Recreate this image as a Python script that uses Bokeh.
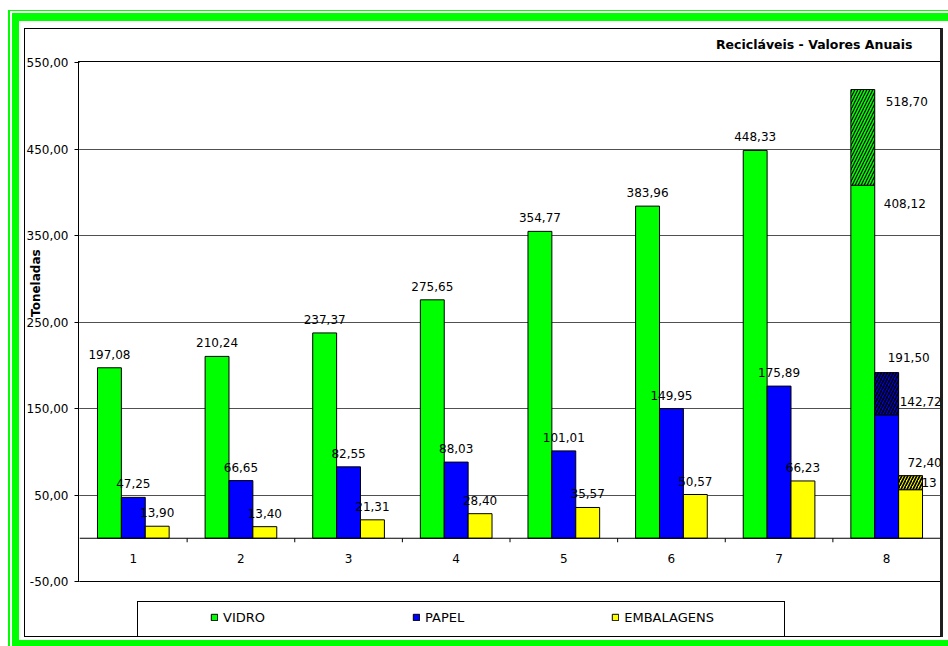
from bokeh.plotting import figure
from bokeh.models import (Range1d, FixedTicker, Span, Legend, LegendItem,
                          ColumnDataSource, CustomJSTickFormatter)
from bokeh.transform import dodge
from bokeh.core.properties import value
from bokeh.embed import file_html
from bokeh.resources import INLINE

# ---------------------------------------------------------------- data
meses = [1, 2, 3, 4, 5, 6, 7, 8]
vidro = [197.08, 210.24, 237.37, 275.65, 354.77, 383.96, 448.33, 408.12]
papel = [47.25, 66.65, 82.55, 88.03, 101.01, 149.95, 175.89, 142.72]
embalagens = [13.90, 13.40, 21.31, 28.40, 35.57, 50.57, 66.23, 56.13]

# projected totals for the last year (hatched part of the bars)
prev_mes = [8]
prev_vidro = [518.70]
prev_papel = [191.50]
prev_embalagens = [72.40]

y_ticks = [-50, 50, 150, 250, 350, 450, 550]
titulo = "Recicláveis - Valores Anuais"
eixo_y = "Toneladas"


def br(v):
    return f"{v:.2f}".replace(".", ",")


# ---------------------------------------------------------------- layout (canvas px)
W, H = 948, 646
FL, FR, FT = 79, 940, 62      # value area: left, right, top
AB = 581                      # bottom of the value area (y = -50)
FB = 637                      # the frame runs on down to the legend's base
FONT = "DejaVu Sans"

y_min, y_max = y_ticks[0], y_ticks[-1]
upp = (y_max - y_min) / (AB - FT)            # data units per pixel
y_lo = y_min - (FB - AB) * upp

# chart-area border: double green rule, black frame, value-area edges, legend box
rects = [
    (8, 10, 940, 1, "#00FF00"), (8, 10, 2, 636, "#00FF00"),
    (12, 13, 936, 8, "#00FF00"), (12, 13, 7, 633, "#00FF00"), (12, 640, 936, 6, "#00FF00"),
    (24, 28, 917, 1, "#000000"), (24, 28, 1, 609, "#000000"),
    (24, 636, 917, 1, "#000000"), (940, 28, 3, 609, "#202020"),
    (78, 61, 863, 1, "#000000"), (78, 61, 1, 521, "#000000"),
    (137, 601, 648, 1, "#000000"), (137, 601, 1, 36, "#000000"), (784, 601, 1, 36, "#000000"),
]
bg = ", ".join(f"linear-gradient({c}, {c}) {x}px {y}px / {w}px {h}px no-repeat"
               for x, y, w, h, c in rects) + ", #ffffff"

p = figure(width=W, height=H, x_range=Range1d(0.5, 8.5), y_range=Range1d(y_lo, y_max),
           output_backend="svg", toolbar_location=None, x_axis_location=None,
           min_border_left=FL, min_border_right=W - FR,
           min_border_top=FT, min_border_bottom=H - FB)
p.styles = {"background": bg}
p.background_fill_alpha = 0
p.border_fill_alpha = 0
p.outline_line_color = None

# title, top right
p.title.text = titulo
p.title.align = "right"
p.title.offset = FR - 912
p.title.standoff = 21
p.title.text_font = FONT
p.title.text_font_style = "bold"
p.title.text_font_size = "12.5px"
p.title.text_color = "black"

# y axis
p.yaxis.ticker = FixedTicker(ticks=y_ticks)
p.yaxis.formatter = CustomJSTickFormatter(code="return tick.toFixed(2).replace('.', ',');")
p.yaxis.major_tick_out = 5
p.yaxis.major_tick_in = 0
p.yaxis.minor_tick_line_color = None
p.yaxis.axis_line_color = None
p.yaxis.major_tick_line_color = "black"
p.yaxis.major_label_standoff = 6
p.yaxis.major_label_text_font = FONT
p.yaxis.major_label_text_font_size = "12px"
p.yaxis.major_label_text_color = "black"
# leading no-break spaces lift the rotated title above the frame centre
p.yaxis.axis_label = "\u00a0" * 32 + eixo_y
p.yaxis.axis_label_standoff = -19
p.yaxis.axis_label_text_font = FONT
p.yaxis.axis_label_text_font_style = "bold"
p.yaxis.axis_label_text_font_size = "12px"
p.yaxis.axis_label_text_color = "black"

p.xgrid.visible = False
p.ygrid.ticker = FixedTicker(ticks=y_ticks)
p.ygrid.grid_line_color = "#505050"
p.ygrid.grid_line_width = 1

# base of the value area and category axis on the zero line
p.add_layout(Span(location=y_min, dimension="width", line_color="black", line_width=1))
p.add_layout(Span(location=0, dimension="width", line_color="black", line_width=1))
n = len(meses)
bounds = [i + 0.5 for i in range(1, n)]
p.segment(x0=bounds, x1=bounds, y0=[0] * len(bounds), y1=[-4 * upp] * len(bounds),
          line_color="black", line_width=1)
p.text(x=meses, y=[0] * n, text=[str(m) for m in meses], y_offset=20,
       text_align="center", text_baseline="middle",
       text_font=value(FONT), text_font_size=value("12px"), text_color="black")

# ---------------------------------------------------------------- bars
BW = 0.222
src = ColumnDataSource(dict(x=meses, vidro=vidro, papel=papel, emb=embalagens))
series = [("vidro", "VIDRO", "#00FF00", -BW),
          ("papel", "PAPEL", "#0000FF", 0.0),
          ("emb", "EMBALAGENS", "#FFFF00", BW)]
bar_r = []
for key, name, color, off in series:
    r = p.vbar(x=dodge("x", off), top=key, bottom=0, width=BW, source=src,
               fill_color=color, line_color="black", line_width=1)
    bar_r.append(r)

# label of the last packaging bar sits behind its hatched extension
last_emb = ColumnDataSource(dict(x=[meses[-1] + BW], y=[embalagens[-1]],
                                 t=[br(embalagens[-1])]))
p.text(x="x", y="y", text="t", source=last_emb, x_offset=9, y_offset=-7,
       text_align="center", text_baseline="middle",
       text_font=value(FONT), text_font_size=value("12px"), text_color="black")

# hatched projection on top of the last year
prev = ColumnDataSource(dict(x=prev_mes,
                             v0=[vidro[-1]], v1=prev_vidro,
                             p0=[papel[-1]], p1=prev_papel,
                             e0=[embalagens[-1]], e1=prev_embalagens))
for (b0, b1), color, off, hw in [(("v0", "v1"), "#00FF00", -BW, 1.2),
                                 (("p0", "p1"), "#0000FF", 0.0, 1.7),
                                 (("e0", "e1"), "#FFFF00", BW, 1.7)]:
    p.vbar(x=dodge("x", off), bottom=b0, top=b1, width=BW, source=prev,
           fill_color=color, line_color="black", line_width=1,
           hatch_pattern="/", hatch_color="black", hatch_scale=6, hatch_weight=hw)

# value labels, years 1..7
lbl = ColumnDataSource(dict(
    x=meses[:-1],
    vidro=vidro[:-1], papel=papel[:-1], emb=embalagens[:-1],
    tv=[br(v) for v in vidro[:-1]],
    tp=[br(v) for v in papel[:-1]],
    te=[br(v) for v in embalagens[:-1]],
))
for key, tkey, off in [("vidro", "tv", -BW), ("papel", "tp", 0.0), ("emb", "te", BW)]:
    p.text(x=dodge("x", off), y=key, text=tkey, source=lbl, y_offset=-13.5,
           text_align="center", text_baseline="middle",
           text_font=value(FONT), text_font_size=value("12px"), text_color="black")

# value labels, last year
m8 = meses[-1]
lbl8 = ColumnDataSource(dict(
    x=[m8 - BW, m8 - BW, m8, m8, m8 + BW],
    y=[prev_vidro[0], vidro[-1], prev_papel[0], papel[-1], prev_embalagens[0]],
    t=[br(prev_vidro[0]), br(vidro[-1]), br(prev_papel[0]), br(papel[-1]),
       br(prev_embalagens[0])],
    xo=[44, 42, 22, 34, 14],
    yo=[12, 18, -15, -13, -13],
))
p.text(x="x", y="y", text="t", source=lbl8, x_offset="xo", y_offset="yo",
       text_align="center", text_baseline="middle",
       text_font=value(FONT), text_font_size=value("12px"), text_color="black")

# ---------------------------------------------------------------- legend (inside the frame's lower strip)
legend = Legend(
    items=[LegendItem(label=name, renderers=[r]) for (_, name, _, _), r in zip(series, bar_r)],
    orientation="horizontal", location=(210 - FL, FB - 627),
    glyph_width=8, glyph_height=8, label_standoff=5, spacing=147,
    padding=0, margin=0, border_line_alpha=0, background_fill_alpha=0,
    label_text_font=FONT, label_text_font_size="13px", label_height=20,
    label_text_color="black",
)
p.add_layout(legend)

open("out.html", "w").write(file_html(p, INLINE))
